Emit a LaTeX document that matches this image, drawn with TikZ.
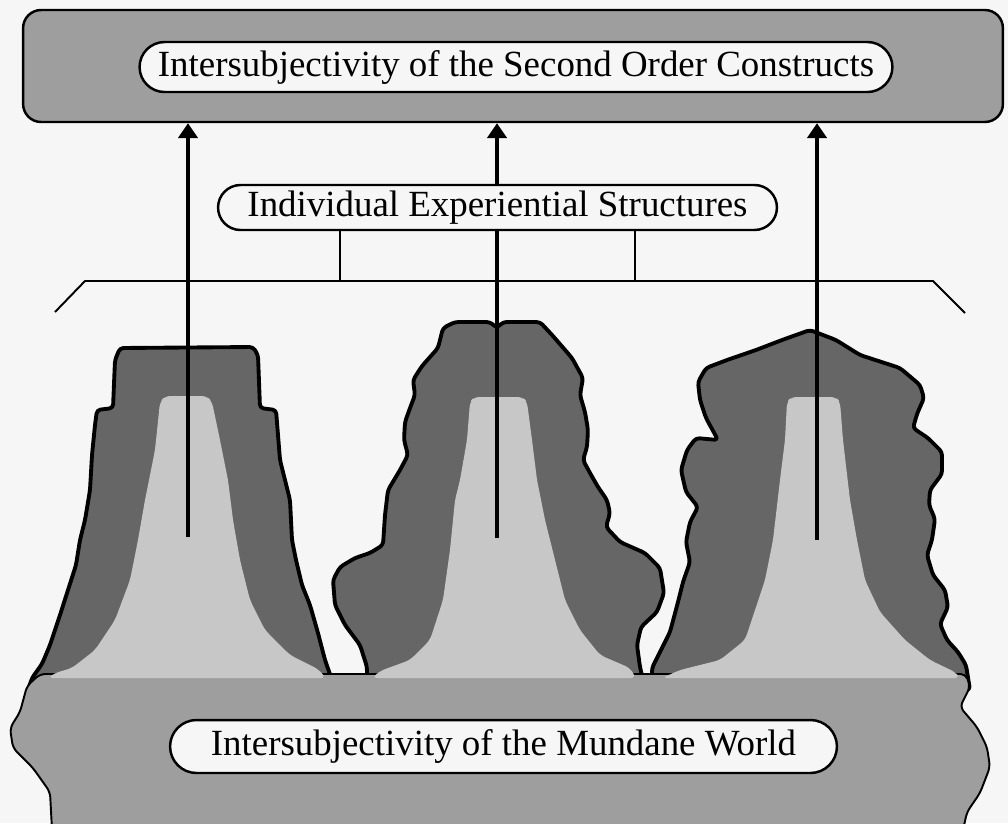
\documentclass[tikz,border=0pt]{standalone}
\usepackage{fontspec}
\setmainfont{Liberation Serif}
\usetikzlibrary{arrows.meta,shapes.misc}
\definecolor{bg}{gray}{0.965}
\definecolor{boxgray}{gray}{0.62}
\definecolor{coregray}{gray}{0.78}
\definecolor{bandgray}{gray}{0.40}
\begin{document}
\begin{tikzpicture}[x=0.02cm,y=-0.02cm,
  pill/.style={draw=black,line width=1.4pt,fill=bg,rounded rectangle,inner sep=0pt,font=\fontsize{21}{25}\selectfont},
  topbox/.style={draw=black,line width=1.4pt,fill=boxgray,rounded corners=0.36cm,inner sep=0pt},
  band/.style={fill=bandgray,draw=black,line width=2.2pt,line join=round,rounded corners=2pt},
  core/.style={fill=coregray,rounded corners=3pt},
  base/.style={fill=boxgray,draw=black,line width=1.1pt,line join=round,rounded corners=3pt},
  arr/.style={line width=2.2pt,-{Triangle[length=8.5pt,width=11pt]}},
  brk/.style={line width=1.1pt}]
\fill[bg] (0,0) rectangle (1008,823);
\useasboundingbox (0,0) rectangle (1008,823);

% hills (outer crosshatched bands)
\path[band] (28,690) -- (32,678) -- (42,664) -- (50,645) -- (60,615) -- (68,590) -- (76,565) -- (80,540) -- (85,520) -- (90,490) -- (92,455) -- (95,425) -- (97,410) -- (113,408) -- (115,360) -- (120,348) -- (253,347) -- (258,355) -- (260,408) -- (276,410) -- (280,460) -- (290,500) -- (292,540) -- (296,560) -- (302,585) -- (310,605) -- (318,633) -- (325,660) -- (332,680) -- (335,690) -- cycle;
\path[band] (363,690) -- (367,677) -- (367,667) -- (360,645) -- (345,625) -- (335,605) -- (333,580) -- (340,567) -- (355,558) -- (370,553) -- (383,545) -- (385,515) -- (388,490) -- (400,470) -- (408,455) -- (404,440) -- (405,422) -- (410,408) -- (415,395) -- (413,380) -- (422,366) -- (438,348) -- (443,328) -- (455,322) -- (490,322) -- (497,328) -- (503,322) -- (540,322) -- (553,336) -- (572,358) -- (583,378) -- (580,395) -- (585,412) -- (588,430) -- (587,447) -- (583,460) -- (590,473) -- (598,487) -- (607,500) -- (610,513) -- (606,527) -- (620,542) -- (645,553) -- (660,568) -- (664,593) -- (657,612) -- (641,627) -- (637,645) -- (640,667) -- (643,680) -- (645,690) -- cycle;
\path[band] (652,690) -- (652,668) -- (660,652) -- (670,632) -- (678,602) -- (683,582) -- (690,562) -- (686,542) -- (690,522) -- (698,507) -- (686,492) -- (681,470) -- (687,450) -- (696,438) -- (718,440) -- (706,418) -- (700,400) -- (698,382) -- (706,368) -- (727,360) -- (756,350) -- (782,340) -- (810,330) -- (836,340) -- (860,355) -- (900,368) -- (920,385) -- (924,398) -- (917,414) -- (913,428) -- (928,438) -- (942,452) -- (942,474) -- (930,490) -- (929,505) -- (935,519) -- (932,540) -- (927,555) -- (933,575) -- (945,590) -- (948,607) -- (940,624) -- (947,640) -- (958,652) -- (966,665) -- (970,690) -- cycle;

% mundane world base
\path[base] (40,674) -- (27,686) -- (20,712) -- (10,728) -- (13,748) -- (33,768) -- (50,792) -- (52,830) -- (963,830) -- (967,812) -- (980,793) -- (990,767) -- (987,747) -- (977,727) -- (960,707) -- (970,687) -- (966,674) -- cycle;

% light cores
\path[core] (160,402) -- (165,396) -- (207,396) -- (212,402) -- (220,440) -- (228,480) -- (233,520) -- (240,560) -- (250,600) -- (265,630) -- (290,655) -- (318,669) -- (326,678) -- (48,678) -- (55,673) -- (72,668) -- (95,650) -- (115,620) -- (130,580) -- (138,540) -- (145,500) -- (155,450) -- cycle;
\path[core] (470,402) -- (474,397) -- (523,397) -- (527,402) -- (532,440) -- (537,480) -- (545,520) -- (555,560) -- (565,600) -- (580,630) -- (600,655) -- (630,668) -- (636,678) -- (372,678) -- (380,671) -- (410,660) -- (430,640) -- (443,600) -- (450,550) -- (455,500) -- (460,480) -- (467,440) -- cycle;
\path[core] (787,402) -- (791,397) -- (836,397) -- (840,402) -- (843,440) -- (850,500) -- (857,540) -- (865,580) -- (880,612) -- (905,640) -- (930,660) -- (955,672) -- (960,678) -- (662,678) -- (680,670) -- (720,660) -- (745,640) -- (755,610) -- (765,580) -- (773,540) -- (780,480) -- (785,440) -- cycle;

% top box
\node[topbox,minimum width=19.6cm,minimum height=2.24cm] (top) at (513,66) {};
\node[pill,minimum width=15.06cm,minimum height=1.0cm] (second) at (516,67) {Intersubjectivity of the Second Order Constructs};

% bracket
\coordinate (bl) at (55,312);
\coordinate (b1) at (85,281);
\coordinate (b2) at (933,281);
\coordinate (br) at (965,313);
\coordinate (t1) at (340,281);
\coordinate (t2) at (635,281);
\draw[brk,line join=round] (bl) -- (b1) -- (b2) -- (br);

% arrows
\coordinate (a1) at (188,537);
\coordinate (a2) at (497,538);
\coordinate (a3) at (817,540);
\draw[arr] (a1) -- (a1 |- top.south);
\draw[arr] (a2) -- (a2 |- top.south);
\draw[arr] (a3) -- (a3 |- top.south);

% individual structures
\node[pill,minimum width=11.18cm,minimum height=0.9cm] (indiv) at (497.5,207.5) {Individual Experiential Structures};
\draw[brk] (indiv.south -| t1) -- (t1);
\draw[brk] (indiv.south -| t2) -- (t2);

% mundane world label
\node[pill,minimum width=13.34cm,minimum height=1.06cm] (mundane) at (503.5,746.5) {Intersubjectivity of the Mundane World};
\end{tikzpicture}
\end{document}
